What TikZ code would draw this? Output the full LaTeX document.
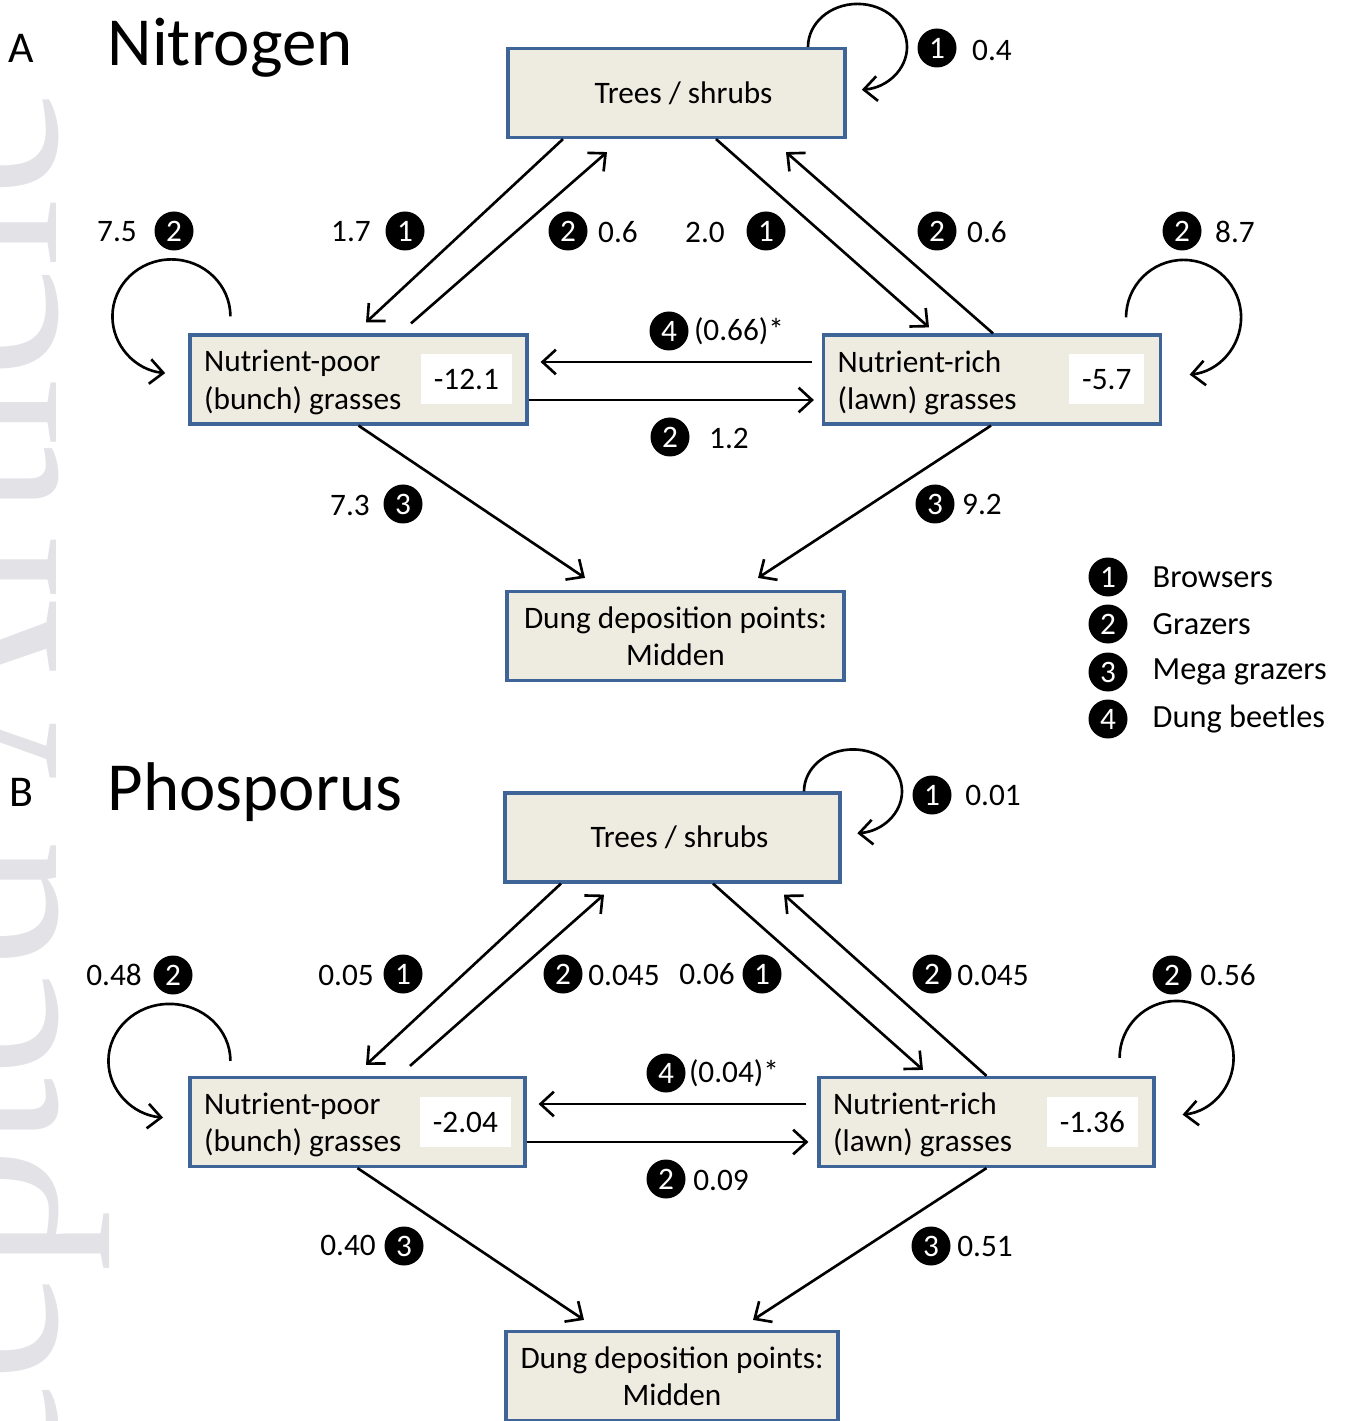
\documentclass[tikz,border=0pt]{standalone}
\usepackage{fontspec}
\setmainfont{Carlito}
\newfontfamily\wmfont{Liberation Serif}
\usetikzlibrary{arrows.meta}

\definecolor{boxfill}{HTML}{EEECE1}
\definecolor{boxline}{HTML}{3F6497}
\definecolor{wmgrey}{HTML}{E3E3E7}

\newcommand{\fs}{\fontsize{8.9}{10.6}\selectfont}

\tikzset{
  pool/.style={draw=boxline, fill=boxfill, line width=0.9pt, minimum width=3.37cm, minimum height=0.89cm, inner sep=0pt, font=\fs, align=center},
  val/.style={fill=white, minimum height=0.5cm, inner xsep=0.13cm, inner ysep=0pt, font=\fs},
  badge/.style={circle, fill=black, text=white, minimum size=0.39cm, inner sep=0pt, font=\fs},
  lbl/.style={inner sep=0pt, font=\fs},
  flow/.style={line width=0.75pt, -{Straight Barb[length=3.8pt,width=7pt]}},
}

\begin{document}
\begin{tikzpicture}
\useasboundingbox (0,0) rectangle (13.44,-14.21);
% watermark
\node[rotate=90, anchor=base, text=wmgrey, inner sep=0pt, font=\wmfont\fontsize{71}{71}\selectfont] (wm) at (0.56,-9.36) {Accepted Article};

% ---- A: nitrogen ----
\node[anchor=base, inner sep=0pt, font=\fontsize{12.5}{12.5}\selectfont] (tagA) at (0.21,-0.63) {A};
\node[anchor=base west, inner sep=0pt, font=\fontsize{19.6}{19.6}\selectfont] (titleA) at (1.07,-0.66) {Nitrogen};

\node[pool] (treesA) at (6.765,-0.93) {\hspace*{0.14cm}Trees / shrubs};
\node[pool] (poorA) at (3.585,-3.795) {};
\node[pool] (richA) at (9.92,-3.795) {};
\node[pool] (dungA) at (6.755,-6.36) {Dung deposition points:\\Midden};
\node[lbl, anchor=west, align=left] (poorAtxt) at ([xshift=0.15cm,yshift=-0.03cm]poorA.west) {Nutrient-poor\\(bunch) grasses};
\node[lbl, anchor=west, align=left] (richAtxt) at ([xshift=0.15cm,yshift=-0.03cm]richA.west) {Nutrient-rich\\(lawn) grasses};
\node[val, anchor=east] (poorAval) at ([xshift=-0.16cm]poorA.east) {-12.1};
\node[val, anchor=east] (richAval) at ([xshift=-0.17cm]richA.east) {-5.7};

\draw[flow] ([xshift=-1.135cm]treesA.south) -- ([xshift=0.075cm,yshift=0.11cm]poorA.north);
\draw[flow] ([xshift=0.525cm,yshift=0.10cm]poorA.north) -- ([xshift=-0.695cm,yshift=-0.13cm]treesA.south);
\draw[flow] ([xshift=0.395cm]treesA.south) -- ([xshift=-0.63cm,yshift=0.06cm]richA.north);
\draw[flow] ([xshift=0.01cm]richA.north) -- ([xshift=1.095cm,yshift=-0.13cm]treesA.south);
\draw[flow] ([xshift=-0.10cm,yshift=0.175cm]richA.west) -- ([xshift=0.12cm,yshift=0.175cm]poorA.east);
\draw[flow] ([yshift=-0.205cm]poorA.east) -- ([xshift=-0.08cm,yshift=-0.205cm]richA.west);
\draw[flow] (poorA.south) -- ([xshift=-0.905cm,yshift=0.12cm]dungA.north);
\draw[flow] ([xshift=-0.01cm]richA.south) -- ([xshift=0.825cm,yshift=0.12cm]dungA.north);
\draw[flow] ([xshift=1.315cm]treesA.north) arc[start angle=180, end angle=-85, x radius=0.495cm, y radius=0.43cm];
\draw[flow] ([xshift=0.42cm,yshift=0.17cm]poorA.north west) arc[start angle=0, end angle=264, x radius=0.59cm, y radius=0.57cm];
\draw[flow] ([xshift=-0.36cm,yshift=0.16cm]richA.north east) arc[start angle=180, end angle=-84, radius=0.575cm];

\node[badge] (bA1) at (9.37,-0.48) {1};
\node[lbl] (vA1) at (9.92,-0.50) {0.4};
\node[lbl] (vA2) at (1.17,-2.32) {7.5};
\node[badge] (bA2) at (1.74,-2.31) {2};
\node[lbl] (vA3) at (3.51,-2.32) {1.7};
\node[badge] (bA3) at (4.05,-2.31) {1};
\node[badge] (bA4) at (5.68,-2.31) {2};
\node[lbl] (vA4) at (6.18,-2.32) {0.6};
\node[lbl] (vA5) at (7.05,-2.32) {2.0};
\node[badge] (bA5) at (7.66,-2.31) {1};
\node[badge] (bA6) at (9.37,-2.31) {2};
\node[lbl] (vA6) at (9.87,-2.32) {0.6};
\node[badge] (bA7) at (11.82,-2.31) {2};
\node[lbl] (vA7) at (12.35,-2.32) {8.7};
\node[badge] (bA8) at (6.69,-3.31) {4};
\node[lbl] (vA8) at (7.39,-3.31) {(0.66)*};
\node[badge] (bA9) at (6.70,-4.37) {2};
\node[lbl] (vA9) at (7.29,-4.38) {1.2};
\node[lbl] (vA10) at (3.50,-5.05) {7.3};
\node[badge] (bA10) at (4.03,-5.04) {3};
\node[badge] (bA11) at (9.35,-5.04) {3};
\node[lbl] (vA11) at (9.82,-5.04) {9.2};

% key
\node[badge] (key1) at (11.08,-5.77) {1};
\node[badge] (key2) at (11.08,-6.24) {2};
\node[badge] (key3) at (11.08,-6.72) {3};
\node[badge] (key4) at (11.08,-7.19) {4};
\node[lbl, anchor=west, font=\fontsize{9.2}{9.2}\selectfont] (key1txt) at (11.52,-5.77) {Browsers};
\node[lbl, anchor=west, font=\fontsize{9.2}{9.2}\selectfont] (key2txt) at (11.52,-6.24) {Grazers};
\node[lbl, anchor=west, font=\fontsize{9.2}{9.2}\selectfont] (key3txt) at (11.52,-6.72) {Mega grazers};
\node[lbl, anchor=west, font=\fontsize{9.2}{9.2}\selectfont] (key4txt) at (11.52,-7.19) {Dung beetles};

% ---- B: phosphorus ----
\node[anchor=base, inner sep=0pt, font=\fontsize{12.5}{12.5}\selectfont] (tagB) at (0.21,-8.06) {B};
\node[anchor=base west, inner sep=0pt, font=\fontsize{19.6}{19.6}\selectfont] (titleB) at (1.07,-8.10) {Phosporus};

\node[pool, minimum width=3.35cm] (treesB) at (6.725,-8.375) {\hspace*{0.14cm}Trees / shrubs};
\node[pool, minimum width=3.35cm] (poorB) at (3.575,-11.22) {};
\node[pool, minimum width=3.35cm] (richB) at (9.865,-11.22) {};
\node[pool, minimum width=3.32cm] (dungB) at (6.72,-13.76) {Dung deposition points:\\Midden};
\node[lbl, anchor=west, align=left] (poorBtxt) at ([xshift=0.15cm,yshift=-0.03cm]poorB.west) {Nutrient-poor\\(bunch) grasses};
\node[lbl, anchor=west, align=left] (richBtxt) at ([xshift=0.15cm,yshift=-0.03cm]richB.west) {Nutrient-rich\\(lawn) grasses};
\node[val, anchor=east] (poorBval) at ([xshift=-0.15cm]poorB.east) {-2.04};
\node[val, anchor=east] (richBval) at ([xshift=-0.17cm]richB.east) {-1.36};

\draw[flow] ([xshift=-1.115cm]treesB.south) -- ([xshift=0.085cm,yshift=0.11cm]poorB.north);
\draw[flow] ([xshift=0.525cm,yshift=0.10cm]poorB.north) -- ([xshift=-0.685cm,yshift=-0.11cm]treesB.south);
\draw[flow] ([xshift=0.405cm]treesB.south) -- ([xshift=-0.635cm,yshift=0.06cm]richB.north);
\draw[flow] (richB.north) -- ([xshift=1.115cm,yshift=-0.11cm]treesB.south);
\draw[flow] ([xshift=-0.11cm,yshift=0.18cm]richB.west) -- ([xshift=0.12cm,yshift=0.18cm]poorB.east);
\draw[flow] ([yshift=-0.20cm]poorB.east) -- ([xshift=-0.09cm,yshift=-0.20cm]richB.west);
\draw[flow] (poorB.south) -- ([xshift=-0.88cm,yshift=0.10cm]dungB.north);
\draw[flow] (richB.south) -- ([xshift=0.81cm,yshift=0.10cm]dungB.north);
\draw[flow] ([xshift=1.315cm]treesB.north) arc[start angle=180, end angle=-85, x radius=0.49cm, y radius=0.42cm];
\draw[flow] ([xshift=0.42cm,yshift=0.15cm]poorB.north west) arc[start angle=0, end angle=264, x radius=0.61cm, y radius=0.57cm];
\draw[flow] ([xshift=-0.36cm,yshift=0.18cm]richB.north east) arc[start angle=180, end angle=-84, radius=0.57cm];

\node[badge] (bB1) at (9.32,-7.95) {1};
\node[lbl] (vB1) at (9.93,-7.95) {0.01};
\node[lbl] (vB2) at (1.14,-9.75) {0.48};
\node[badge] (bB2) at (1.73,-9.75) {2};
\node[lbl] (vB3) at (3.46,-9.75) {0.05};
\node[badge] (bB3) at (4.03,-9.74) {1};
\node[badge] (bB4) at (5.63,-9.74) {2};
\node[lbl] (vB4) at (6.24,-9.75) {0.045};
\node[lbl] (vB5) at (7.07,-9.74) {0.06};
\node[badge] (bB5) at (7.62,-9.74) {1};
\node[badge] (bB6) at (9.32,-9.74) {2};
\node[lbl] (vB6) at (9.93,-9.75) {0.045};
\node[badge] (bB7) at (11.72,-9.75) {2};
\node[lbl] (vB7) at (12.28,-9.75) {0.56};
\node[badge] (bB8) at (6.66,-10.73) {4};
\node[lbl] (vB8) at (7.34,-10.73) {(0.04)*};
\node[badge] (bB9) at (6.66,-11.79) {2};
\node[lbl] (vB9) at (7.21,-11.80) {0.09};
\node[lbl] (vB10) at (3.48,-12.45) {0.40};
\node[badge] (bB10) at (4.04,-12.46) {3};
\node[badge] (bB11) at (9.31,-12.46) {3};
\node[lbl] (vB11) at (9.85,-12.46) {0.51};
\end{tikzpicture}
\end{document}
